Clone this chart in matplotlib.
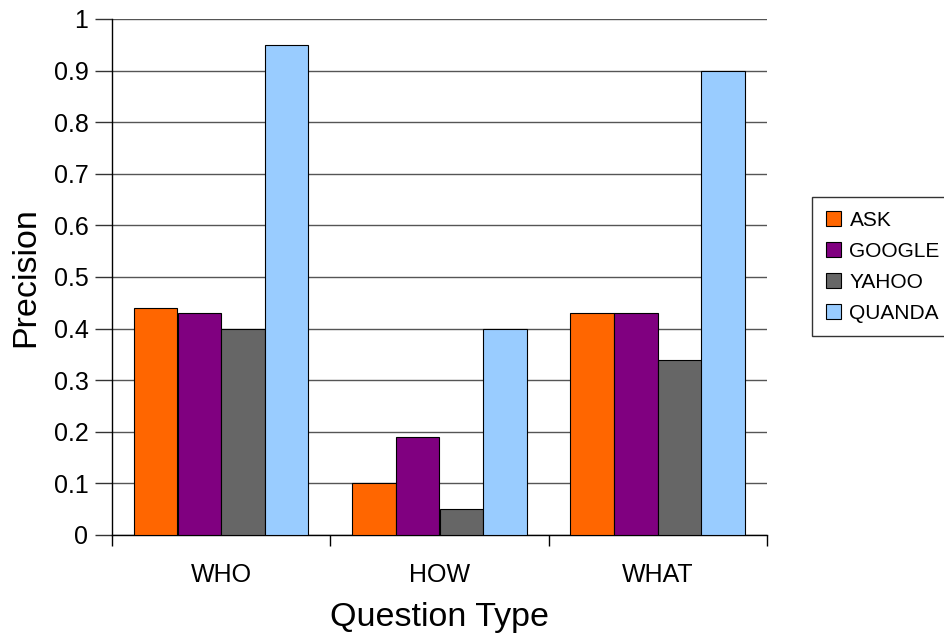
import numpy as np
import matplotlib.pyplot as plt

plt.rcParams['font.family'] = ['Liberation Sans', 'DejaVu Sans']

# precision per question type and engine
question_types = ['WHO', 'HOW', 'WHAT']
engines = ['ASK', 'GOOGLE', 'YAHOO', 'QUANDA']
ask = [0.44, 0.10, 0.43]
google = [0.43, 0.19, 0.43]
yahoo = [0.40, 0.05, 0.34]
quanda = [0.95, 0.40, 0.90]
colors = ['#FF6600', '#800080', '#666666', '#99CCFF']

fig = plt.figure(figsize=(9.44, 6.34), dpi=100)
ax = fig.add_axes([112 / 944, 99 / 634, 655 / 944, 516 / 634])

x = np.arange(len(question_types))
w = 0.2
for i, (vals, name, c) in enumerate(zip([ask, google, yahoo, quanda], engines, colors)):
    ax.bar(x + (i - 1.5) * w, vals, w, color=c, edgecolor='black', linewidth=0.8,
           label=name, zorder=3)

ax.set_xlim(-0.5, 2.5)
ax.set_ylim(0, 1)
ax.set_yticks(np.arange(0, 1.01, 0.1))
ax.set_yticklabels(['0', '0.1', '0.2', '0.3', '0.4', '0.5', '0.6', '0.7', '0.8', '0.9', '1'])
ax.yaxis.grid(True, color='#555555', linewidth=1, zorder=0)

ax.set_xticks(x)
ax.set_xticklabels(question_types)
ax.set_xticks([-0.5, 0.5, 1.5, 2.5], minor=True)
ax.tick_params(axis='x', which='major', length=0, pad=20, labelsize=18)
ax.tick_params(axis='x', which='minor', length=8, width=1, direction='out')
ax.tick_params(axis='y', length=12, width=1, direction='out', pad=5, labelsize=18,
               color='#333333')

ax.spines['top'].set_visible(False)
ax.spines['right'].set_visible(False)
ax.spines['left'].set_linewidth(1)
ax.spines['bottom'].set_linewidth(1)

ax.set_xlabel('Question Type', fontsize=24.5, labelpad=11)
ax.set_ylabel('Precision', fontsize=24.5, labelpad=9)

leg = fig.legend(loc='upper left', bbox_to_anchor=(812 / 944, 1 - 197 / 634),
                 frameon=True, fancybox=False, edgecolor='black', fontsize=15,
                 handlelength=0.75, handleheight=0.75, handletextpad=0.4,
                 borderpad=0.65, labelspacing=0.58, borderaxespad=0)
leg.get_frame().set_linewidth(1)

fig.savefig('out.png', dpi=100)
